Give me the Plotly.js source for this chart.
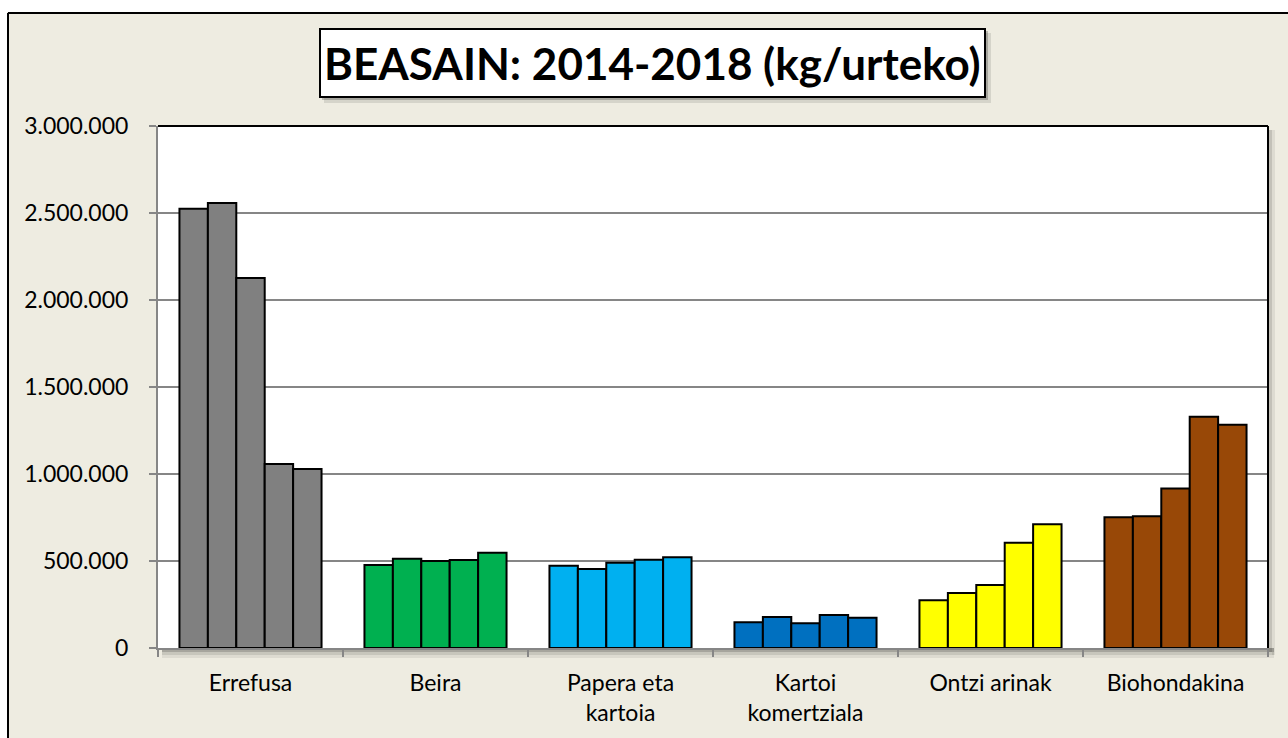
<!DOCTYPE html>
<html>
<head>
<meta charset="utf-8">
<script src="https://cdn.plot.ly/plotly-3.0.1.min.js"></script>
<style>
html,body{margin:0;padding:0;background:#fff;}
#chart{width:1288px;height:738px;}
</style>
</head>
<body>
<div id="chart"></div>
<script>
// ---- data ----
const categories = ["Errefusa", "Beira", "Papera eta<br>kartoia", "Kartoi<br>komertziala", "Ontzi arinak", "Biohondakina"];
const years = ["2014", "2015", "2016", "2017", "2018"];
const v2014 = [2525000, 477000, 473000, 148000, 274000, 751000];
const v2015 = [2557000, 513000, 454000, 178000, 316000, 757000];
const v2016 = [2126000, 500000, 490000, 142000, 362000, 916000];
const v2017 = [1057000, 506000, 507000, 190000, 605000, 1329000];
const v2018 = [1029000, 548000, 521000, 174000, 711000, 1283000];
const categoryColors = ["#808080", "#00B050", "#00B0F0", "#0070C0", "#FFFF00", "#984807"];
const titleText = "BEASAIN: 2014-2018 (kg/urteko)";

const seriesValues = [v2014, v2015, v2016, v2017, v2018];

// ---- layout geometry ----
const W = 1288, H = 738;
const M = {l: 158, r: 20, t: 126, b: 90};
const PW = W - M.l - M.r, PH = H - M.t - M.b;
const px = x => (x - M.l) / PW;
const py = y => (H - M.b - y) / PH;
const RIGHT = W - M.r, BOTTOM = H - M.b;

const FONT = "Lato, 'Open Sans', sans-serif";

const traces = years.map((yr, i) => ({
  type: "bar",
  name: yr,
  x: categories,
  y: seriesValues[i],
  marker: {color: categoryColors, line: {color: "#000000", width: 2}},
  hoverinfo: "x+y+name"
}));

function rect(x0, y0, x1, y1, fill, line, layer) {
  return {type: "rect", xref: "paper", yref: "paper",
    x0: px(x0), x1: px(x1), y0: py(y0), y1: py(y1),
    fillcolor: fill, line: line || {width: 0}, layer: layer || "above"};
}
function line(x0, y0, x1, y1, color, width, layer) {
  return {type: "line", xref: "paper", yref: "paper",
    x0: px(x0), x1: px(x1), y0: py(y0), y1: py(y1),
    line: {color: color, width: width}, layer: layer || "above"};
}

const shapes = [
  // plot area shadow (bottom / right)
  rect(162, BOTTOM, RIGHT + 6, BOTTOM + 4, "rgba(0,0,0,0.30)", null, "below"),
  rect(162, BOTTOM + 4, RIGHT + 6, BOTTOM + 7, "rgba(0,0,0,0.16)", null, "below"),
  rect(162, BOTTOM + 7, RIGHT + 6, BOTTOM + 10, "rgba(0,0,0,0.07)", null, "below"),
  rect(RIGHT, 130, RIGHT + 4, BOTTOM + 4, "rgba(0,0,0,0.18)", null, "below"),
  rect(RIGHT + 4, 130, RIGHT + 7, BOTTOM + 7, "rgba(0,0,0,0.07)", null, "below"),
  // plot area top / right border
  line(158, 126, RIGHT, 126, "#000000", 2),
  line(RIGHT, 126, RIGHT, BOTTOM, "#000000", 2),
  // white outside region of the chart frame
  rect(0, 0, W, 12, "#ffffff"),
  rect(0, 0, 7, H, "#ffffff"),
  line(8, 13, W + 5, 13, "#000000", 2),
  line(8, 13, 8, H + 5, "#000000", 2),
  // title box shadow and box
  rect(324, 33, 991, 103, "rgba(0,0,0,0.10)"),
  rect(322, 31, 988, 100, "rgba(0,0,0,0.22)"),
  rect(320, 29, 985, 97, "#ffffff", {color: "#000000", width: 2})
];

const layout = {
  width: W, height: H,
  margin: M,
  paper_bgcolor: "#EEECE1",
  plot_bgcolor: "#ffffff",
  separators: ",.",
  showlegend: false,
  barmode: "group",
  bargap: 0.232,
  bargroupgap: 0,
  font: {family: FONT, size: 23, color: "#000000"},
  xaxis: {
    type: "category",
    showline: true, linecolor: "#868686", linewidth: 2,
    ticks: "outside", tickson: "boundaries", ticklen: 7, tickwidth: 2, tickcolor: "#868686",
    ticklabelstandoff: 13,
    tickfont: {family: FONT, size: 23, color: "#000000"},
    showgrid: false, fixedrange: true
  },
  yaxis: {
    range: [0, 3000000], dtick: 500000, tick0: 0,
    tickformat: ",.0f",
    showline: true, linecolor: "#868686", linewidth: 2,
    ticks: "outside", ticklen: 7, tickwidth: 2, tickcolor: "#868686",
    ticklabelstandoff: 16,
    showgrid: true, gridcolor: "#868686", gridwidth: 2,
    zeroline: false,
    tickfont: {family: FONT, size: 23, color: "#000000"},
    fixedrange: true
  },
  shapes: shapes,
  annotations: [{
    xref: "paper", yref: "paper",
    x: px(652.5), y: py(63),
    xanchor: "center", yanchor: "middle",
    text: "<b>" + titleText + "</b>",
    showarrow: false,
    font: {family: FONT, size: 44, color: "#000000"}
  }]
};

Plotly.newPlot("chart", traces, layout, {displayModeBar: false, staticPlot: true});
</script>
</body>
</html>
